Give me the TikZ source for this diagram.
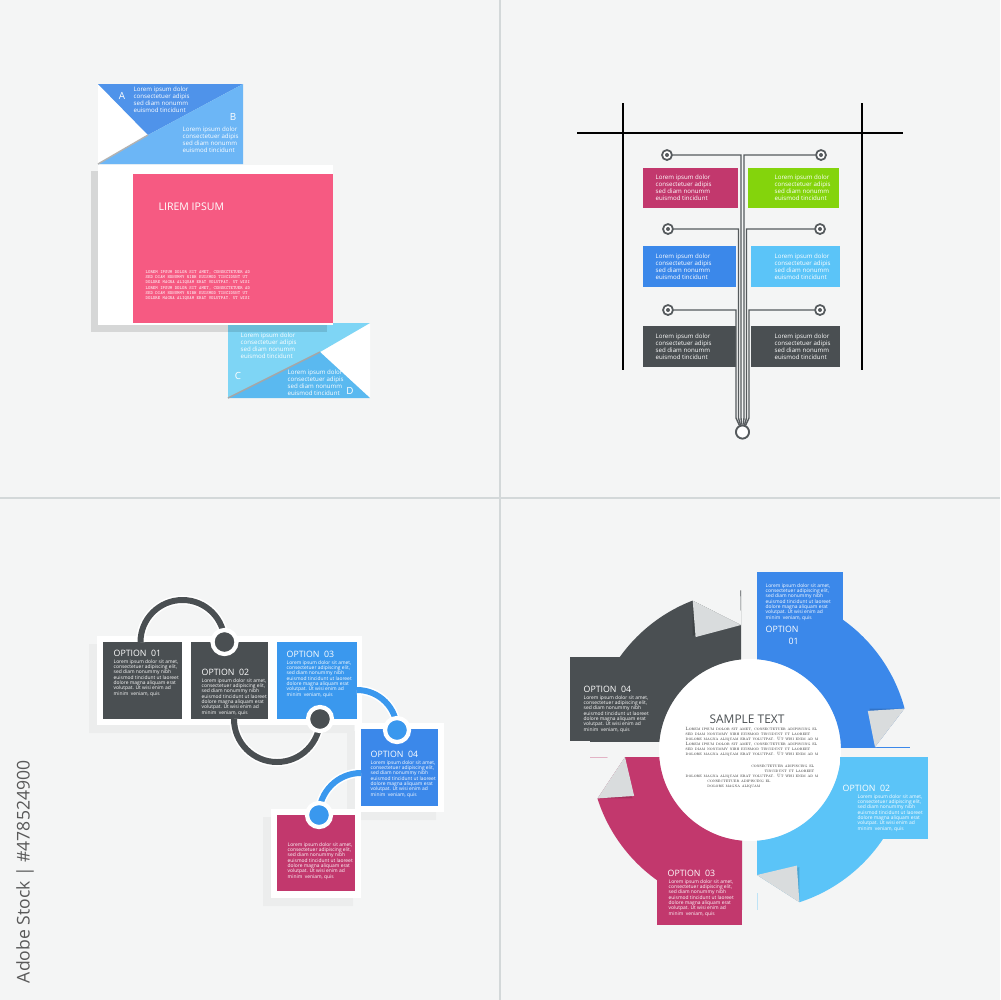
\documentclass[tikz,border=0pt]{standalone}
\usepackage{fontspec}
\setsansfont{Open Sans}
\usetikzlibrary{calc}

\definecolor{bgpanel}{HTML}{F4F5F5}
\definecolor{divider}{HTML}{D3D8D9}
\definecolor{ribbonA}{HTML}{4F93EA}
\definecolor{ribbonB}{HTML}{6CB6F6}
\definecolor{ribbonC}{HTML}{7ED5F5}
\definecolor{ribbonD}{HTML}{5AB9F0}
\definecolor{cardpink}{HTML}{F65A82}
\definecolor{plum}{HTML}{C2386D}
\definecolor{lime}{HTML}{84D40C}
\definecolor{azure}{HTML}{3B88EA}
\definecolor{sky}{HTML}{5BC4F8}
\definecolor{slate}{HTML}{4A4F52}
\definecolor{optblue}{HTML}{3A98EE}
\definecolor{foldgray}{HTML}{D9DCDD}
\definecolor{wirecol}{HTML}{555A5D}

\newcommand{\shortlorem}{Lorem ipsum dolor\\consectetuer adipis\\sed diam nonumm\\euismod tincidunt}
\newcommand{\longlorem}{Lorem ipsum dolor sit amet,\\consectetuer adipiscing elit,\\sed diam nonummy nibh\\euismod tincidunt ut laoreet\\dolore magna aliquam erat\\volutpat. Ut wisi enim ad\\minim\ \ veniam, quis}
\newcommand{\monolorem}{LOREM IPSUM DOLOR SIT AMET, CONSECTETUER AD\\SED DIAM NONUMMY NIBH EUISMOD TINCIDUNT UT\\DOLORE MAGNA ALIQUAM ERAT VOLUTPAT. UT WISI}
\newcommand{\capslorem}{Lorem ipsum dolor sit amet, consectetuer adipiscing el\\sed diam nonummy nibh euismod tincidunt ut laoreet\\dolore magna aliquam erat volutpat. Ut wisi enim ad m}

\begin{document}
\begin{tikzpicture}[x=0.1mm, y=-0.1mm,
  short/.style={font=\sffamily\fontsize{1.75}{2}\selectfont, text=white, align=left, inner sep=0pt, anchor=west},
  body/.style={font=\sffamily\fontsize{1.4}{1.5}\selectfont, text=white, align=left, inner sep=0pt, anchor=north west},
  optlabel/.style={font=\sffamily\fontsize{2.5}{3}\selectfont, text=white, inner sep=0pt, anchor=west},
  letter/.style={font=\sffamily\fontsize{2.8}{3}\selectfont, text=white, inner sep=0pt},
  serif/.style={font=\rmfamily\scshape\fontsize{1.3}{1.42}\selectfont, text=black!85, inner sep=0pt},
  ringdot/.style={circle, draw=wirecol, fill=white, line width=0.5pt, minimum size=1mm, inner sep=0pt,
    path picture={\fill[wirecol] (path picture bounding box.center) circle (2);}},
  wire/.style={draw=wirecol, line width=0.4pt},
  tagbox/.style={rectangle, inner sep=0pt, minimum height=4mm},
  optbox/.style={rectangle, inner sep=0pt},
  knot/.style={circle, draw=white, line width=1.2pt, minimum size=2.4mm, inner sep=0pt},
  link/.style={line width=1.7pt},
  fold/.style={fill=foldgray}
]
\useasboundingbox (0,0) rectangle (1000,1000);
\fill[bgpanel] (0,0) rectangle (1000,1000);
\draw[divider, line width=0.6pt] (500,0) -- (500,1000) (0,498) -- (1000,498);
\node[font=\sffamily\fontsize{5}{6}\selectfont, text=black!65, rotate=90, anchor=east, inner sep=0pt] (stamp) at (25,760) {Adobe Stock | \#478524900};

% panel 1: ribbons and card
\fill[white] (98,84) -- (148,135) -- (98,164) -- cycle;
\fill[ribbonA] (98,84) -- (243,84) -- (148,135) -- cycle;
\fill[ribbonB] (148,135) -- (243,84) -- (243,164) -- (98,164) -- cycle;
\draw[black!30, line width=0.4pt] (98,164) -- (148,135);
\fill[white] (370,323) -- (320,352) -- (370,398) -- cycle;
\fill[ribbonC] (228,323) -- (370,323) -- (320,352) -- (228,398) -- cycle;
\fill[ribbonD] (228,398) -- (320,352) -- (370,398) -- cycle;
\draw[black!35, line width=0.4pt] (228,398) -- (320,352);
\fill[black, opacity=.12] (91,171) rectangle (327,332);
\fill[white] (98,165) rectangle (333,325);
\fill[cardpink] (133,174) rectangle (333,323);
\node[letter] (labA) at (122,96) {A};
\node[short] (txtA) at (133,100) {\shortlorem};
\node[letter] (labB) at (233,117) {B};
\node[short] (txtB) at (182,140) {\shortlorem};
\node[letter] (labC) at (238,376) {C};
\node[short] (txtC) at (240,346) {\shortlorem};
\node[letter] (labD) at (350,391) {D};
\node[short] (txtD) at (287,383) {\shortlorem};
\node[font=\sffamily\fontsize{3}{3.5}\selectfont, text=white, inner sep=0pt, anchor=west] (title) at (158,207) {LIREM IPSUM};
\node[font=\ttfamily\fontsize{1.3}{1.48}\selectfont, text=white, align=left, inner sep=0pt, anchor=north west] (mono) at (145,270) {\monolorem\\\monolorem};

% panel 2: frame, tags and wires
\draw[black, line width=0.6pt] (577,133) -- (903,133) (623,103) -- (623,370) (862,103) -- (862,370);
\node[tagbox, fill=plum, minimum width=9.5mm] (tl1) at (690.5,188) {};
\node[tagbox, fill=lime, minimum width=9.1mm] (tr1) at (793.5,188) {};
\node[tagbox, fill=azure, minimum width=9.3mm, minimum height=4.1mm] (tl2) at (689.5,266.5) {};
\node[tagbox, fill=sky, minimum width=8.9mm, minimum height=4.1mm] (tr2) at (795.5,266.5) {};
\node[tagbox, fill=slate, minimum width=9.3mm, minimum height=4.1mm] (tl3) at (689.5,346.5) {};
\node[tagbox, fill=slate, minimum width=8.9mm, minimum height=4.1mm] (tr3) at (795.5,346.5) {};
\foreach \t/\x in {tl1/655, tl2/655, tl3/655, tr1/774, tr2/774, tr3/774}
  \node[short] at (\x,0 |- \t.west) {\shortlorem};
\node[ringdot] (dl1) at (667,155) {};
\node[ringdot] (dr1) at (821,155) {};
\node[ringdot] (dl2) at (668,229) {};
\node[ringdot] (dr2) at (820,229) {};
\node[ringdot] (dl3) at (668,310) {};
\node[ringdot] (dr3) at (820,310) {};
\node[circle, draw=wirecol, fill=white, line width=0.5pt, minimum size=1.3mm, inner sep=0pt] (root) at (742.5,432) {};
\draw[wire] (dl1) -- (741,155) -- (741,418) -- (root);
\draw[wire] (dr1) -- (744,155) -- (744,418) -- (root);
\draw[wire] (dl2) -- (738.5,229) -- (738.5,418) -- (root);
\draw[wire] (dr2) -- (746.5,229) -- (746.5,418) -- (root);
\draw[wire] (dl3) -- (736,310) -- (736,418) -- (root);
\draw[wire] (dr3) -- (749,310) -- (749,418) -- (root);
\node[circle, draw=wirecol, fill=white, line width=0.5pt, minimum size=1.3mm, inner sep=0pt] at (root) {};

% panel 3: option boxes joined by links
\fill[black, opacity=.03] (89,644) rectangle (354,733) (347,731) rectangle (436,820) (263,817) rectangle (353,906);
\fill[white] (97,636) rectangle (362,725);
\fill[white] (355,723) rectangle (444,812);
\fill[white] (271,809) rectangle (361,898);
\node[optbox, fill=slate, minimum width=7.9mm, minimum height=7.7mm] (o1) at (142.5,680.5) {};
\node[optbox, fill=slate, minimum width=7.7mm, minimum height=7.7mm] (o2) at (229.5,680.5) {};
\node[optbox, fill=optblue, minimum width=8mm, minimum height=7.7mm] (o3) at (317,680.5) {};
\node[optbox, fill=azure, minimum width=7.7mm, minimum height=7.7mm] (o4) at (399.5,767.5) {};
\node[optbox, fill=plum, minimum width=7.8mm, minimum height=7.6mm] (o5) at (316,853) {};
\draw[link, white, line width=2.6pt] (140.5,642) arc[start angle=180, end angle=360, radius=42];
\draw[link, slate] (140.5,642) arc[start angle=180, end angle=360, radius=42];
\draw[link, white, line width=2.6pt] (234,719) arc[start angle=180, end angle=0, radius=43];
\draw[link, slate] (234,719) arc[start angle=180, end angle=0, radius=43];
\draw[link, white, line width=2.6pt] (357,690) arc[start angle=270, end angle=360, radius=40];
\draw[link, optblue] (357,690) arc[start angle=270, end angle=360, radius=40];
\draw[link, white, line width=2.6pt] (361,773) arc[start angle=270, end angle=180, radius=42];
\draw[link, optblue] (361,773) arc[start angle=270, end angle=180, radius=42];
\node[knot, fill=slate] (k1) at (224.5,642) {};
\node[knot, fill=slate] (k2) at (320,719) {};
\node[knot, fill=optblue] (k3) at (397,730) {};
\node[knot, fill=optblue] (k4) at (319,815) {};
\node[optlabel] (t1) at (113,653) {OPTION\ \ 01};
\node[body] (b1) at (113,659) {\longlorem};
\node[optlabel] (t2) at (201,672) {OPTION\ \ 02};
\node[body] (b2) at (201,678) {\longlorem};
\node[optlabel] (t3) at (286,654) {OPTION\ \ 03};
\node[body] (b3) at (286,660) {\longlorem};
\node[optlabel] (t4) at (370,754) {OPTION\ \ 04};
\node[body] (b4) at (370,760) {\longlorem};
\node[body] (b5) at (287,842) {\longlorem};

% panel 4: ring of four curled arrows
\coordinate (C) at (750,750);
\fill[white] (C) circle (91);
\begin{scope}
  \clip (757,560) rectangle (940,747);
  \fill[azure, even odd rule] (C) circle (160) circle (91);
\end{scope}
\begin{scope}
  \clip (757,757) rectangle (940,940);
  \fill[sky, even odd rule] (C) circle (160) circle (91);
\end{scope}
\begin{scope}
  \clip (560,757) rectangle (742,940);
  \fill[plum, even odd rule] (C) circle (160) circle (91);
\end{scope}
\begin{scope}
  \clip (560,560) rectangle (741,741);
  \fill[slate, even odd rule] (C) circle (160) circle (91);
\end{scope}
\node[optbox, fill=azure, minimum width=8.6mm, minimum height=8.3mm] (q1) at (800,613.5) {};
\node[optbox, fill=sky, minimum width=8.8mm, minimum height=8.2mm] (q2) at (884,798) {};
\node[optbox, fill=plum, minimum width=8.5mm, minimum height=8.3mm] (q3) at (699.5,883.5) {};
\node[optbox, fill=slate, minimum width=8.7mm, minimum height=8.4mm] (q4) at (613.5,699) {};
% curled ends
\foreach \O/\A/\B in {{910,747}/{904.5,708.6}/{875,747}, {757,910}/{799.4,902.2}/{757,875},
                      {590,757}/{597.5,798.4}/{625,757}, {741,590}/{692.7,600.6}/{741,625}} {
  \fill[bgpanel] (\B) -- (\A) -- ($(C)!1.1!(\A)$) -- ($(C)!1.1!(\O)$) -- cycle;
  \fill[black, opacity=.15] (\A) -- (\B) -- ($(\A)+(\B)-(\O)$) -- cycle;
  \fill[fold] (\A) -- (\B) -- ($(\A)!.06!(\B)+(\B)-(\O)$) -- cycle;
}
\node[body] (p1) at (765,583) {\longlorem};
\node[optlabel] (n1) at (765,629) {OPTION};
\node[optlabel] (n1b) at (788,641) {01};
\node[optlabel] (n2) at (842,788) {OPTION\ \ 02};
\node[body] (p2) at (857,794) {\longlorem};
\node[optlabel] (n3) at (667,873) {OPTION\ \ 03};
\node[body] (p3) at (668,879) {\longlorem};
\node[optlabel] (n4) at (583,689) {OPTION\ \ 04};
\node[body] (p4) at (583,695) {\longlorem};
% centre text
\node[font=\sffamily\fontsize{3.4}{4}\selectfont, text=slate, inner sep=0pt] (sample) at (747,719) {SAMPLE TEXT};
\node[serif, align=left, anchor=north west] (cap1) at (685,727) {\capslorem\\\capslorem};
\node[serif, align=right, anchor=north east] (cap2) at (815,764) {consectetuer adipiscing el\\tincidunt ut laoreet};
\node[serif, align=left, anchor=north west] (cap3) at (685,774) {dolore magna aliquam erat volutpat. Ut wisi enim ad m\\\hspace*{6.2pt}consectetuer adipiscing el\\\hspace*{6.2pt}dolore magna aliquam};
\end{tikzpicture}
\end{document}
